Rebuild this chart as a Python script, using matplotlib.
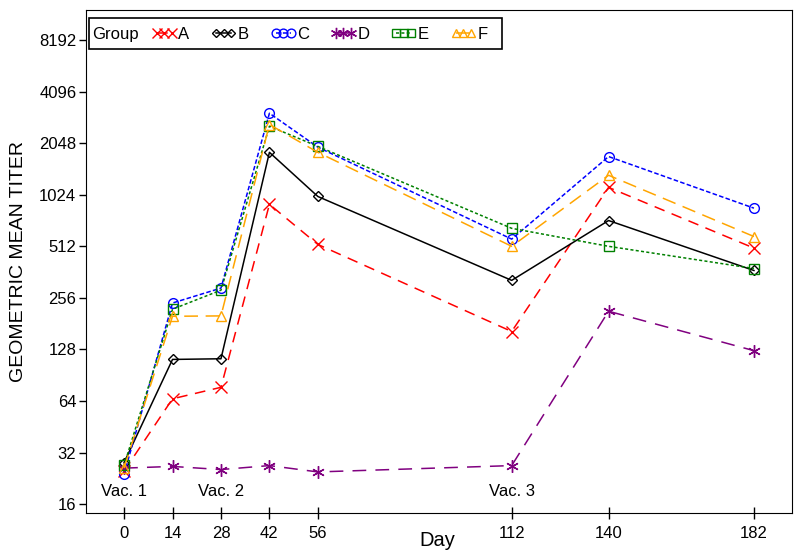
import numpy as np
import matplotlib
matplotlib.use('Agg')
import matplotlib.pyplot as plt
from matplotlib.patches import Rectangle

plt.rcParams['font.family'] = ['Liberation Sans', 'DejaVu Sans']

# Dados
days = [0, 14, 28, 42, 56, 112, 140, 182]
gmt_a = [25, 66, 77, 900, 525, 163, 1130, 500]
gmt_b = [28, 112, 113, 1810, 1000, 324, 724, 370]
gmt_c = [24, 239, 292, 3060, 1940, 564, 1710, 855]
gmt_d = [26, 26.6, 25.5, 26.9, 24.7, 26.9, 214, 126]
gmt_e = [27, 220, 284, 2570, 1960, 652, 512, 380]
gmt_f = [26, 200, 201, 2630, 1810, 512, 1330, 584]
groups = ['A', 'B', 'C', 'D', 'E', 'F']
y_ticks = [16, 32, 64, 128, 256, 512, 1024, 2048, 4096, 8192]
vac_days = [0, 28, 112]
vac_labels = ['Vac. 1', 'Vac. 2', 'Vac. 3']

series = [gmt_a, gmt_b, gmt_c, gmt_d, gmt_e, gmt_f]
colors = ['red', 'black', 'blue', 'purple', 'green', 'orange']
markers = ['x', 'D', 'o', (6, 2, 0), 's', '^']
msizes = [8, 5, 7, 9, 7, 7]
styles = [(0, (7, 5)), '-', (0, (3, 1.5)), (0, (9, 6)), (0, (2, 1.5)), (0, (9, 5))]

fig = plt.figure(figsize=(8, 5.58), dpi=100)
ax = fig.add_axes([0.1075, 0.0806, 0.8825, 0.9014])

handles = []
for vals, c, m, ms, ls, g in zip(series, colors, markers, msizes, styles, groups):
    h, = ax.plot(days, vals, color=c, marker=m, markersize=ms, markerfacecolor='none',
                 markeredgecolor=c, linestyle=ls, linewidth=1.1, label=g)
    handles.append(h)

ax.set_yscale('log', base=2)
ax.set_ylim(2 ** 3.83, 2 ** 13.58)
ax.set_xlim(-11, 193)
ax.set_yticks(y_ticks)
ax.set_yticklabels([str(v) for v in y_ticks])
ax.minorticks_off()
ax.set_xticks(days)
ax.tick_params(axis='y', labelsize=12, length=5, width=1, pad=2)
ax.tick_params(axis='x', labelsize=12, length=9, width=1, pad=5, direction='inout')

for d, t in zip(vac_days, vac_labels):
    ax.text(d, 19.1, t, ha='center', va='center', fontsize=12)

ax.set_xlabel('Day', fontsize=14.5)
ax.xaxis.set_label_coords(0.498, -0.036)
ax.set_ylabel('GEOMETRIC MEAN TITER', fontsize=14)
ax.yaxis.set_label_coords(-0.083, 0.5)

# Legenda: caixa, texto "Group" e entradas
ax.add_patch(Rectangle((0.004, 0.922), 0.585, 0.062, transform=ax.transAxes,
                       fill=False, edgecolor='black', linewidth=1.2, zorder=5))
ax.text(0.009, 0.952, 'Group', transform=ax.transAxes, ha='left', va='center',
        fontsize=12, zorder=6)
leg = ax.legend(handles=handles, loc='center left', bbox_to_anchor=(0.093, 0.952),
                ncol=6, numpoints=3, handlelength=1.5, handletextpad=0.1,
                columnspacing=1.3, fontsize=12, frameon=False, borderpad=0,
                borderaxespad=0, markerscale=0.9)

fig.savefig('out.png', dpi=100)
